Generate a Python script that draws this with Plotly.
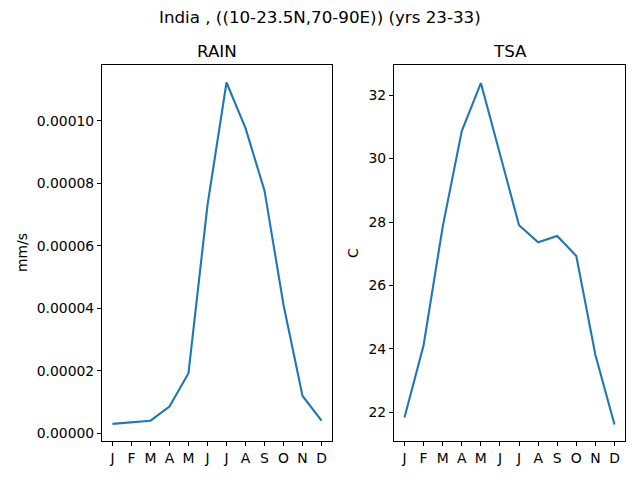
import plotly.graph_objects as go

months = ["J", "F", "M", "A", "M", "J", "J", "A", "S", "O", "N", "D"]
rain = [2.97e-6, 3.4e-6, 4.0e-6, 8.5e-6, 19.2e-6, 73.0e-6, 112.2e-6, 97.6e-6, 77.6e-6, 41.0e-6, 11.9e-6, 4.0e-6]
tsa = [21.84, 24.12, 27.85, 30.87, 32.38, 30.16, 27.90, 27.36, 27.56, 26.93, 23.81, 21.62]
rain_ticks = [0, 0.00002, 0.00004, 0.00006, 0.00008, 0.00010]
tsa_ticks = [22, 24, 26, 28, 30, 32]

W, H = 640, 480
OFF = 8  # page body margin compensation
xs = list(range(len(months)))
color = "#1f77b4"
font = "DejaVu Sans"


def px(x):
    return (x - OFF) / W


def py(y):
    return 1 - (y - OFF) / H


fig = go.Figure()
fig.add_trace(go.Scatter(x=xs, y=rain, mode="lines", line=dict(color=color, width=2.1),
                         xaxis="x", yaxis="y", showlegend=False))
fig.add_trace(go.Scatter(x=xs, y=tsa, mode="lines", line=dict(color=color, width=2.1),
                         xaxis="x2", yaxis="y2", showlegend=False))

ydom = [py(441), py(65)]
axcommon = dict(showline=True, mirror=True, linecolor="black", linewidth=1.1,
                ticks="outside", ticklen=4, tickwidth=1.1, tickcolor="black",
                showgrid=False, zeroline=False,
                tickfont=dict(family=font, size=13.9, color="black"))

fig.update_layout(
    width=W, height=H,
    margin=dict(l=0, r=0, t=0, b=0),
    paper_bgcolor="white", plot_bgcolor="white",
    font=dict(family=font, color="black"),
    xaxis=dict(domain=[px(102), px(332)], range=[-0.55, 11.55], tickvals=xs, ticktext=months,
               anchor="y", **axcommon),
    yaxis=dict(domain=ydom, range=[-2.5e-6, 117.8e-6], tickvals=rain_ticks,
               tickformat=".5f", anchor="x", **axcommon),
    xaxis2=dict(domain=[px(394), px(625)], range=[-0.55, 11.55], tickvals=xs, ticktext=months,
                anchor="y2", **axcommon),
    yaxis2=dict(domain=ydom, range=[21.10, 32.95], tickvals=tsa_ticks, anchor="x2", **axcommon),
    annotations=[
        dict(text="India , ((10-23.5N,70-90E)) (yrs 23-33)", x=px(320), y=py(17),
             xref="paper", yref="paper", showarrow=False, xanchor="center", yanchor="middle",
             font=dict(family=font, size=16.7, color="black")),
        dict(text="RAIN", x=px(217), y=py(51), xref="paper", yref="paper", showarrow=False,
             xanchor="center", yanchor="middle", font=dict(family=font, size=16.7, color="black")),
        dict(text="TSA", x=px(509.5), y=py(51), xref="paper", yref="paper", showarrow=False,
             xanchor="center", yanchor="middle", font=dict(family=font, size=16.7, color="black")),
        dict(text="mm/s", x=px(22), y=py(253), xref="paper", yref="paper", showarrow=False,
             textangle=-90, xanchor="center", yanchor="middle",
             font=dict(family=font, size=13.9, color="black")),
        dict(text="C", x=px(353), y=py(253), xref="paper", yref="paper", showarrow=False,
             textangle=-90, xanchor="center", yanchor="middle",
             font=dict(family=font, size=13.9, color="black")),
    ],
)

fig.write_html("out.html")
